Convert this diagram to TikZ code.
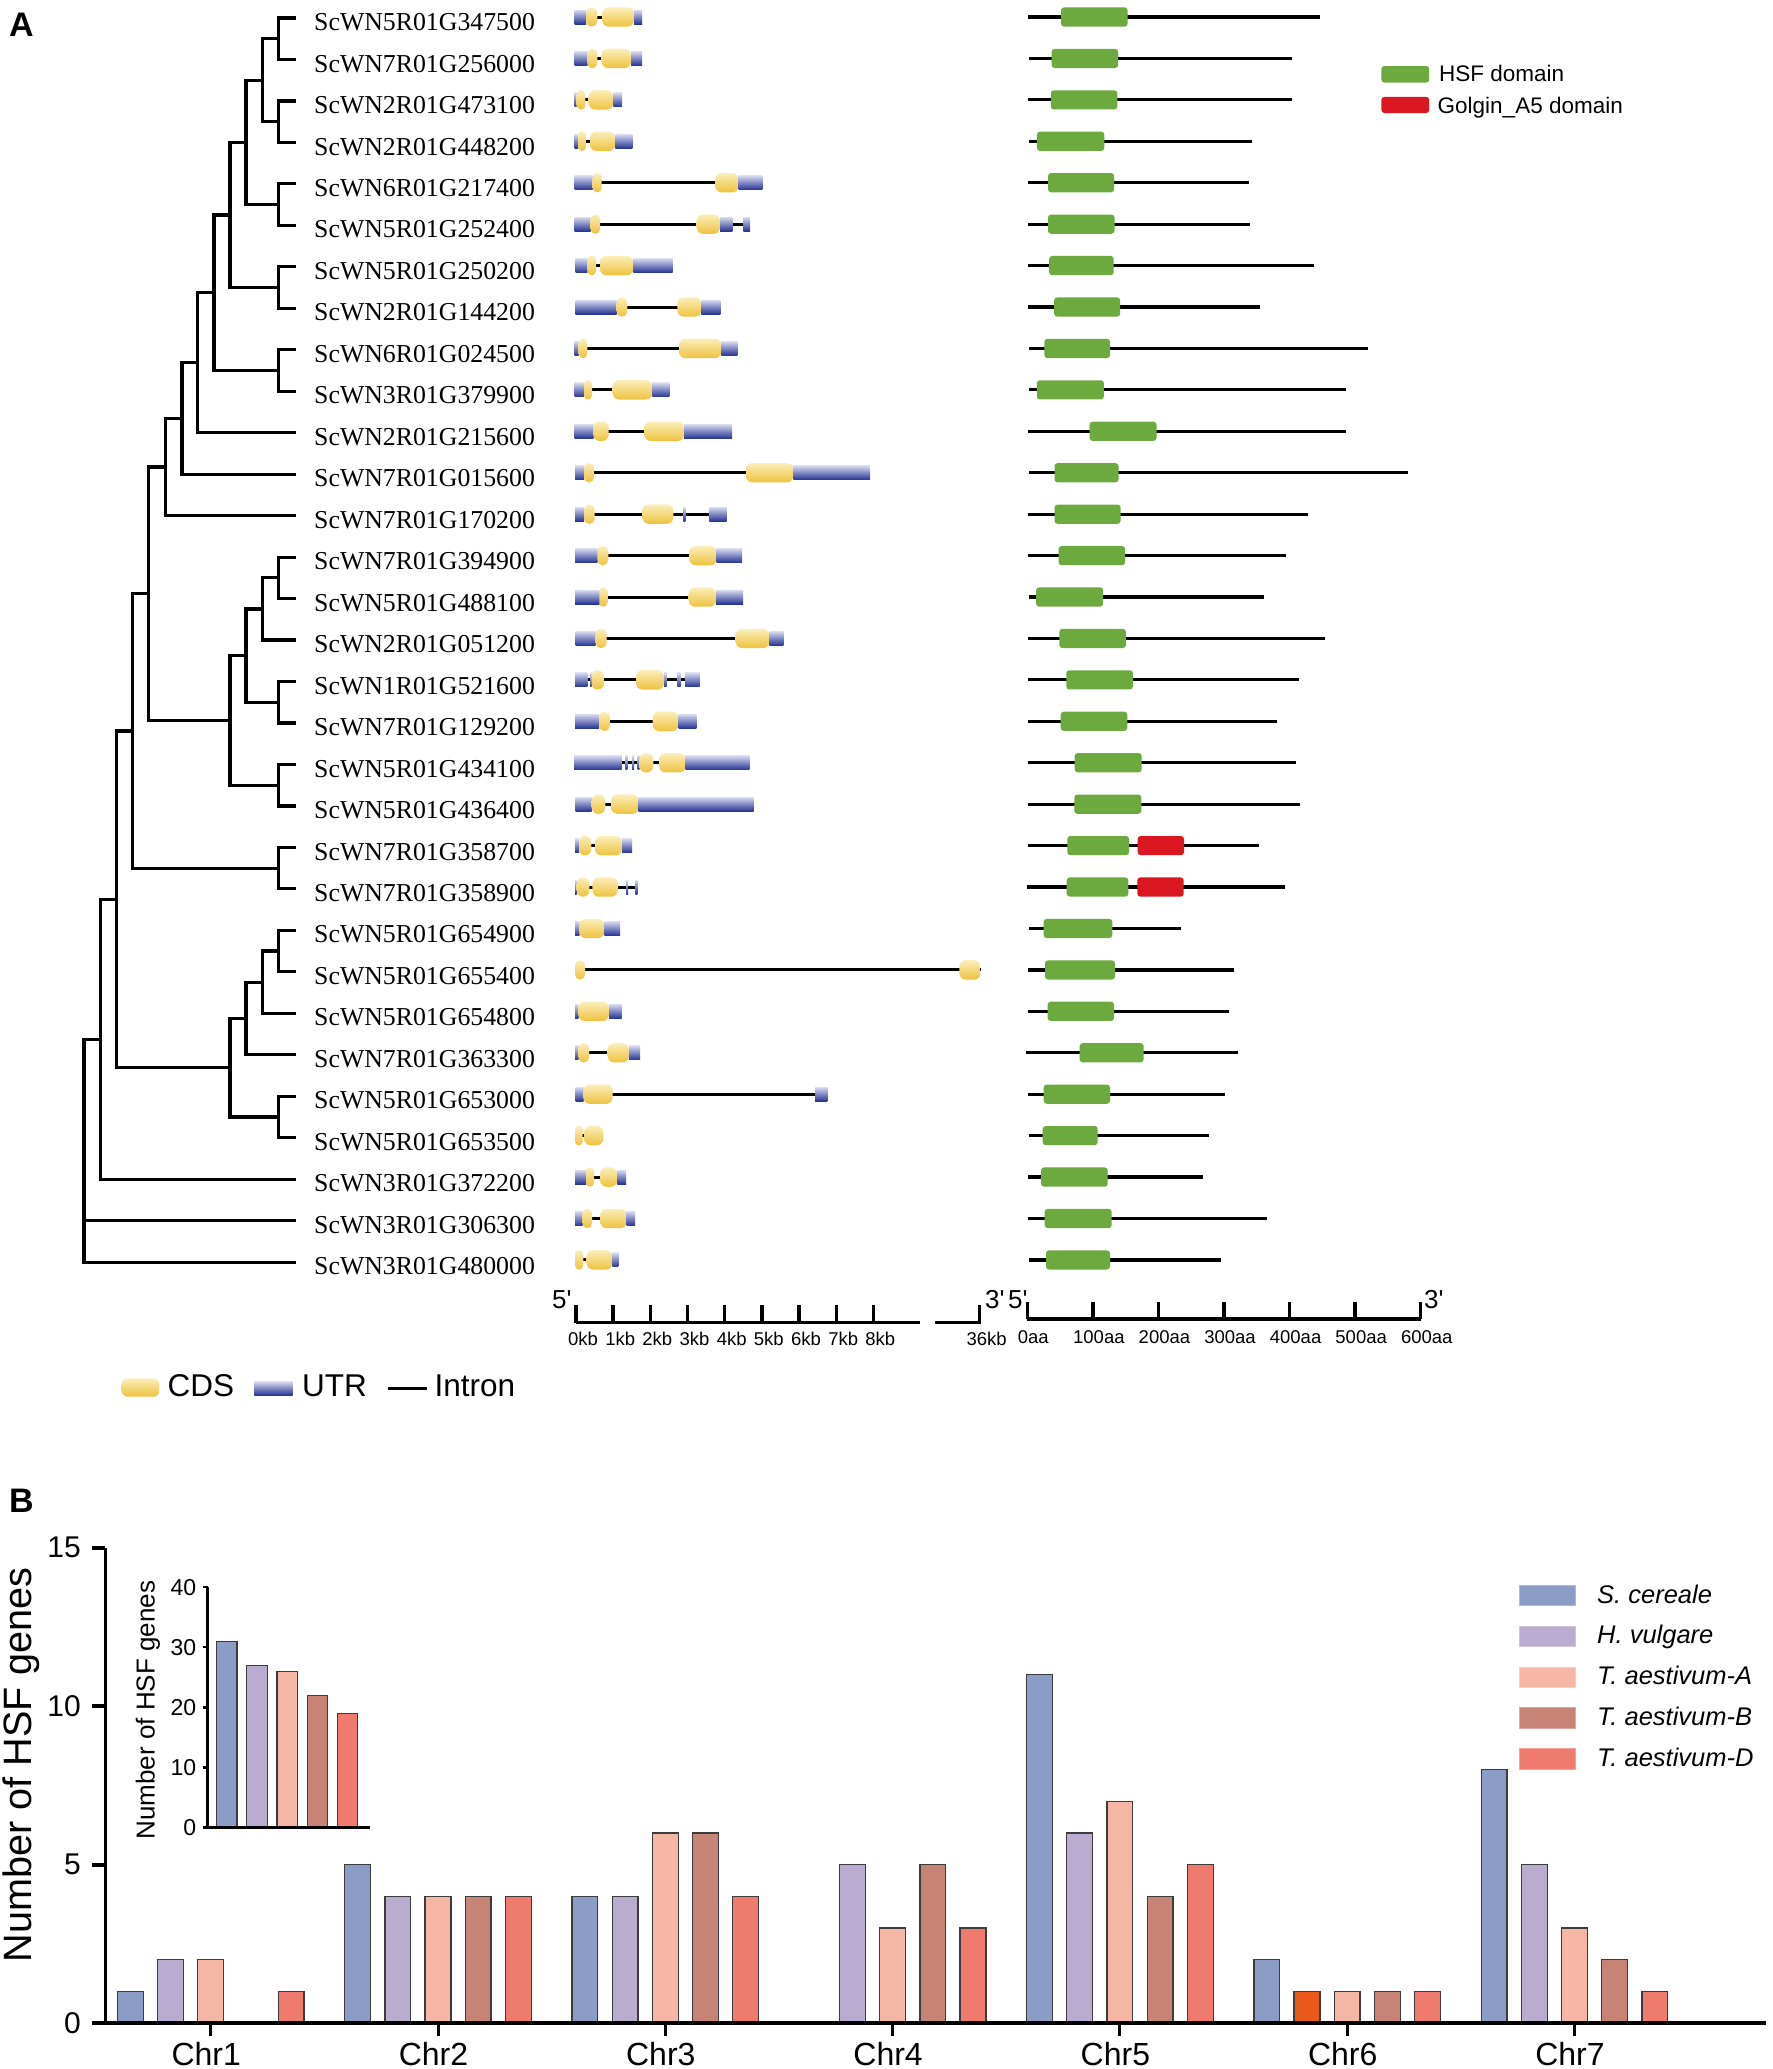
\documentclass[tikz,border=0pt]{standalone}
\usepackage{fontspec}
\setmainfont{Liberation Serif}
\setsansfont{Liberation Sans}
\newfontfamily\arialf{Liberation Sans}
\usetikzlibrary{calc}
\definecolor{utrdark}{RGB}{38,52,148}
\definecolor{utrmid}{RGB}{78,90,178}
\definecolor{utrlight}{RGB}{214,217,240}
\definecolor{cdstop}{RGB}{251,238,186}
\definecolor{cdsbot}{RGB}{238,194,62}
\definecolor{hsfgreen}{RGB}{108,170,63}
\definecolor{golgired}{RGB}{218,22,32}
\definecolor{cSc}{RGB}{139,157,198}
\definecolor{cHv}{RGB}{186,171,208}
\definecolor{cTa}{RGB}{246,182,166}
\definecolor{cTb}{RGB}{200,131,119}
\definecolor{cTd}{RGB}{239,123,111}
\definecolor{cOr}{RGB}{233,90,26}
\newcommand\fsz[1]{\fontsize{#1}{#1}\selectfont}
% tree node: name, x, child1, child2
\newcommand\tn[4]{%
  \coordinate (#1m) at ($(#3)!0.5!(#4)$);
  \coordinate (#1x) at (#2,0);
  \coordinate (#1) at (#1x |- #1m);
  \draw[treeline] (#3) -| (#1) |- (#4);}
\newcommand\utr[2]{\shade[utrsh] (#1,\yy-7) rectangle (#2,\yy+7);}
\newcommand\cds[2]{\pgfmathsetmacro\rr{min(6.5,(#2-#1)/2-0.05)}%
  \shade[cdssh, rounded corners=\rr pt] (#1,\yy-9.7) rectangle (#2,\yy+9.7);}
\newcommand\gene[4]{\pgfmathsetmacro\yy{17+41.43*(#1-1)}%
  \draw[intronline] (#2,\yy) -- (#3,\yy); #4}
\newcommand\chbar[4]{\pgfmathsetmacro\cx{210.7+227.3*(#1-1)+(#2-2)*40.2}%
  \pgfmathsetmacro\ty{2023.2-31.7*#3}%
  \filldraw[barst, fill=#4] (\cx-12.9,2023.2) rectangle (\cx+12.9,\ty);}
\begin{document}
\begin{tikzpicture}[x=1pt,y=-1pt,
  treeline/.style={line width=3.2pt, black},
  glabel/.style={anchor=base west, inner sep=0pt, font=\fsz{25.8}},
  utrsh/.style={top color=utrlight, middle color=utrmid, bottom color=utrdark},
  cdssh/.style={top color=cdstop, bottom color=cdsbot},
  intronline/.style={line width=3pt, black},
  pline/.style={line width=3.2pt, black},
  hsfst/.style={fill=hsfgreen, rounded corners=3pt},
  golst/.style={fill=golgired, rounded corners=3pt},
  scaleline/.style={line width=3.4pt, black},
  sclab/.style={anchor=base, inner sep=0pt, font=\arialf\fsz{18.5}},
  primelab/.style={anchor=base west, inner sep=0pt, font=\arialf\fsz{26}},
  barst/.style={draw={rgb,255:red,60;green,60;blue,60}, line width=1.3pt},
  axisline/.style={line width=3.6pt, black},
  txt/.style={inner sep=0pt, font=\arialf}]
\useasboundingbox (0,0) rectangle (1772,2069);
\fill[white] (0,0) rectangle (1772,2069);

% ---------- Panel labels
\node[txt, anchor=base west, font=\arialf\bfseries\fsz{34}] (labA) at (9,36) {A};
\node[txt, anchor=base west, font=\arialf\bfseries\fsz{34}] (labB) at (9,1512) {B};

% ---------- Tree leaves and labels
\foreach \i/\n in {1/ScWN5R01G347500,2/ScWN7R01G256000,3/ScWN2R01G473100,4/ScWN2R01G448200,
 5/ScWN6R01G217400,6/ScWN5R01G252400,7/ScWN5R01G250200,8/ScWN2R01G144200,9/ScWN6R01G024500,
 10/ScWN3R01G379900,11/ScWN2R01G215600,12/ScWN7R01G015600,13/ScWN7R01G170200,14/ScWN7R01G394900,
 15/ScWN5R01G488100,16/ScWN2R01G051200,17/ScWN1R01G521600,18/ScWN7R01G129200,19/ScWN5R01G434100,
 20/ScWN5R01G436400,21/ScWN7R01G358700,22/ScWN7R01G358900,23/ScWN5R01G654900,24/ScWN5R01G655400,
 25/ScWN5R01G654800,26/ScWN7R01G363300,27/ScWN5R01G653000,28/ScWN5R01G653500,29/ScWN3R01G372200,
 30/ScWN3R01G306300,31/ScWN3R01G480000}{
  \coordinate (l\i) at (296,{18+41.47*(\i-1)});
  \node[glabel] (g\i) at (314,{18+41.47*(\i-1)+12.6}) {\n};
}
\tn{a12}{278.3}{l1}{l2}
\tn{a34}{278.3}{l3}{l4}
\tn{a14}{262.3}{a12}{a34}
\tn{a56}{278.3}{l5}{l6}
\tn{a16}{246}{a14}{a56}
\tn{a78}{278.3}{l7}{l8}
\tn{a18}{230}{a16}{a78}
\tn{a910}{278.3}{l9}{l10}
\tn{a110}{214}{a18}{a910}
\tn{a111}{197.7}{a110}{l11}
\tn{a112}{182}{a111}{l12}
\tn{a113}{165.7}{a112}{l13}
\tn{b1415}{278.3}{l14}{l15}
\tn{b1416}{262.3}{b1415}{l16}
\tn{b1718}{278.3}{l17}{l18}
\tn{b1418}{246}{b1416}{b1718}
\tn{b1920}{278.3}{l19}{l20}
\tn{b1420}{230}{b1418}{b1920}
\tn{c120}{148.7}{a113}{b1420}
\tn{c2122}{278.3}{l21}{l22}
\tn{c122}{132.7}{c120}{c2122}
\tn{d2324}{278.3}{l23}{l24}
\tn{d2325}{262.3}{d2324}{l25}
\tn{d2326}{246}{d2325}{l26}
\tn{d2728}{278.3}{l27}{l28}
\tn{d2328}{230}{d2326}{d2728}
\tn{e128}{116.7}{c122}{d2328}
\tn{e129}{100.5}{e128}{l29}
\coordinate (rootx) at (84,0);
\coordinate (root) at (rootx |- l30);
\draw[treeline] (e129) -| (root) |- (l31);
\draw[treeline] (root) -- (l30);

% ---------- Gene structures
\gene{1}{574.7}{642}{\utr{574.7}{586}\cds{586}{597.3}\cds{602.3}{634}\utr{634}{642}}
\gene{2}{574.7}{642}{\utr{574.7}{587.3}\cds{587.3}{597.3}\cds{601.7}{631}\utr{631}{642}}
\gene{3}{574.7}{622}{\utr{574.7}{576.7}\cds{576.7}{585.3}\cds{588.7}{613.3}\utr{613.3}{622}}
\gene{4}{574.7}{632.3}{\utr{574.7}{578}\cds{578}{586}\cds{590}{615.3}\utr{615.3}{632.3}}
\gene{5}{574.7}{762.3}{\utr{574.7}{592.7}\cds{592.7}{601.7}\cds{715.3}{738.7}\utr{738.7}{762.3}}
\gene{6}{574.7}{750}{\utr{574.7}{590.7}\cds{590.7}{600}\cds{696.7}{720}\utr{720}{732.3}\utr{743.3}{750}}
\gene{7}{575.7}{672.7}{\utr{575.7}{587.3}\cds{587.3}{596}\cds{600}{633.3}\utr{633.3}{672.7}}
\gene{8}{575.7}{720.3}{\utr{575.7}{616.7}\cds{616.7}{627.3}\cds{677.3}{701.3}\utr{701.3}{720.3}}
\gene{9}{574.7}{737.3}{\utr{574.7}{578.7}\cds{578.7}{587.3}\cds{679}{721.3}\utr{721.3}{737.3}}
\gene{10}{574.7}{669.3}{\utr{574.7}{584}\cds{584}{592}\cds{612.7}{652.3}\utr{652.3}{669.3}}
\gene{11}{574.7}{732}{\utr{574.7}{593.3}\cds{593.3}{608.7}\cds{644.3}{684}\utr{684}{732}}
\gene{12}{575}{870}{\utr{575}{584}\cds{584}{594}\cds{746}{793.3}\utr{793.3}{870}}
\gene{13}{575}{726.7}{\utr{575}{584}\cds{584}{594.7}\cds{642.3}{673.3}\utr{683.3}{685.3}\utr{709.3}{726.7}}
\gene{14}{575}{742}{\utr{575}{597.3}\cds{597.3}{608.3}\cds{689.3}{716.7}\utr{716.7}{742}}
\gene{15}{575}{743}{\utr{575}{599.3}\cds{599.3}{607.3}\cds{688.7}{716}\utr{716}{743}}
\gene{16}{575.7}{783.3}{\utr{575.7}{595.7}\cds{595.7}{606.7}\cds{735.7}{769.3}\utr{769.3}{783.3}}
\gene{17}{575}{699.7}{\utr{575}{587.3}\utr{590.2}{591.7}\cds{591.7}{603.7}\cds{636}{664}\utr{664}{666.5}\utr{677.3}{680.7}\utr{685}{699.7}}
\gene{18}{575}{696.3}{\utr{575}{599}\cds{599}{610}\cds{652.7}{678.7}\utr{678.7}{696.3}}
\gene{19}{574}{749.3}{\utr{574}{621.7}\utr{625.3}{627.3}\utr{632}{634.2}\utr{637.5}{639.3}\cds{639.3}{653.3}\cds{659}{685.7}\utr{685.7}{749.3}}
\gene{20}{575.7}{753.7}{\utr{575.7}{591.7}\cds{591.7}{605.3}\cds{611}{638.7}\utr{638.7}{753.7}}
\gene{21}{575}{632}{\utr{575}{579}\cds{579}{591.3}\cds{595}{622}\utr{622}{632}}
\gene{22}{575}{637.3}{\utr{575}{576.7}\cds{576.7}{589.3}\cds{592.3}{617.7}\utr{626.3}{628}\utr{635.3}{637.3}}
\gene{23}{575}{620}{\utr{575}{579.3}\cds{579.3}{604.3}\utr{604.3}{620}}
\gene{24}{575}{980.7}{\cds{575}{585}\cds{959.3}{980.7}}
\gene{25}{575}{621.7}{\utr{575}{578.3}\cds{578.3}{609}\utr{609}{621.7}}
\gene{26}{575}{640}{\utr{575}{578.3}\cds{578.3}{589}\cds{607.7}{629}\utr{629}{640}}
\gene{27}{575.7}{827.3}{\utr{575.7}{583.3}\cds{583.3}{612.7}\utr{815}{827.3}}
\gene{28}{575}{603.3}{\cds{575}{582.7}\cds{584.3}{603.3}}
\gene{29}{575}{626}{\utr{575}{586}\cds{586}{594}\cds{600}{617.3}\utr{617.3}{626}}
\gene{30}{575}{635}{\utr{575}{582.7}\cds{582.7}{592}\cds{600.3}{626.7}\utr{626.7}{635}}
\gene{31}{575}{618.3}{\cds{575}{583.3}\cds{586.7}{612.3}\utr{612.3}{618.3}}

% ---------- Protein domains
\foreach \i/\a/\b/\c/\d in {1/1028.4/1320.2/1061/1127.6, 2/1029.2/1291.6/1051.6/1118.2,
 3/1028.4/1291.6/1050.8/1117.3, 4/1029.2/1252.4/1036.9/1104.3, 5/1028.4/1249.2/1048/1114.1,
 6/1028.4/1249.6/1048/1114.5, 7/1028.4/1313.7/1049.2/1113.7, 8/1028.4/1260.2/1054.1/1120.2,
 9/1029.2/1368.4/1044.3/1110, 10/1029.2/1345.5/1036.9/1103.9, 11/1028.4/1345.9/1089.6/1156.5,
 12/1029.2/1408/1054.5/1118.6, 13/1028.4/1307.6/1054.5/1120.6, 14/1028.4/1285.9/1058.6/1125.1,
 15/1029.2/1263.5/1036.1/1103.1, 16/1028/1324.7/1059.4/1125.9, 17/1028.4/1299/1066.3/1132.9,
 18/1028.3/1276.7/1060.7/1127.3, 19/1027.7/1296/1074.7/1141.7, 20/1027.7/1300.3/1074.3/1141.3,
 21/1027.7/1259.3/1067.3/1129, 22/1027.3/1284.7/1066.7/1128.3, 23/1029/1181.3/1043.7/1112.3,
 24/1028.3/1234/1045/1115, 25/1028.3/1229.3/1047.7/1114, 26/1025.7/1238.3/1079.7/1143.7,
 27/1028.3/1224.7/1043.7/1110, 28/1029/1209/1042.7/1097.7, 29/1028.3/1203.3/1041/1107.7,
 30/1027.7/1266.7/1044.7/1111.7, 31/1029/1220.7/1046/1110}{
  \pgfmathsetmacro\yy{17+41.43*(\i-1)}
  \draw[pline] (\a,\yy) -- (\b,\yy);
  \fill[hsfst] (\c,\yy-9.6) rectangle (\d,\yy+9.6);
}
\pgfmathsetmacro\yy{17+41.43*20}
\fill[golst] (1137.7,\yy-9.6) rectangle (1184,\yy+9.6);
\pgfmathsetmacro\yy{17+41.43*21}
\fill[golst] (1137.3,\yy-9.6) rectangle (1183.7,\yy+9.6);

% domain legend
\fill[hsfst] (1381.4,66) rectangle (1429.2,82.6);
\node[txt, anchor=base west, font=\arialf\fsz{22.5}] (lhsf) at (1439,81.8) {HSF domain};
\fill[golst] (1381.4,96.9) rectangle (1429.2,113);
\node[txt, anchor=base west, font=\arialf\fsz{22.5}] (lgol) at (1437.5,113.8) {Golgin\_A5 domain};

% ---------- kb scale bar
\draw[scaleline] (576,1322.7) -- (920,1322.7);
\draw[scaleline] (935,1322.7) -- (979.3,1322.7) -- (979.3,1305);
\foreach \k in {0,...,8}{
  \draw[scaleline] ({576+37.17*\k},1322.7) -- ++(0,-17.7);
  \node[sclab] (kb\k) at ({583+37.17*\k},1345.5) {\k kb};
}
\node[sclab] (kb36) at (986.7,1345.5) {36kb};
\node[primelab] (p5a) at (552,1308) {5\textquotesingle};
\node[primelab] (p3a) at (985,1308) {3\textquotesingle};

% ---------- aa scale bar
\draw[scaleline] (1027.3,1319) -- (1420.7,1319);
\foreach \k/\t in {0/0,1/100,2/200,3/300,4/400,5/500,6/600}{
  \draw[scaleline] ({1027.3+65.57*\k},1319) -- ++(0,-17);
  \node[sclab] (aa\k) at ({1033.3+65.57*\k},1343.5) {\t aa};
}
\node[primelab] (p5b) at (1008,1308) {5\textquotesingle};
\node[primelab] (p3b) at (1424,1308) {3\textquotesingle};

% ---------- CDS/UTR/Intron legend
\shade[cdssh, rounded corners=6pt] (121.7,1378.3) rectangle (159.3,1396.7);
\node[txt, anchor=base west, font=\arialf\fsz{31.5}] (lcds) at (167.5,1396.7) {CDS};
\shade[utrsh] (254.3,1381.7) rectangle (292.7,1395);
\node[txt, anchor=base west, font=\arialf\fsz{31.5}] (lutr) at (302,1396.7) {UTR};
\draw[intronline] (388.3,1388.3) -- (426.7,1388.3);
\node[txt, anchor=base west, font=\arialf\fsz{31.5}] (lint) at (434.5,1396.7) {Intron};

% ---------- Panel B main bars
\chbar{1}{0}{1}{cSc}\chbar{1}{1}{2}{cHv}\chbar{1}{2}{2}{cTa}\chbar{1}{4}{1}{cTd}
\chbar{2}{0}{5}{cSc}\chbar{2}{1}{4}{cHv}\chbar{2}{2}{4}{cTa}\chbar{2}{3}{4}{cTb}\chbar{2}{4}{4}{cTd}
\chbar{3}{0}{4}{cSc}\chbar{3}{1}{4}{cHv}\chbar{3}{2}{6}{cTa}\chbar{3}{3}{6}{cTb}\chbar{3}{4}{4}{cTd}
\chbar{4}{1}{5}{cHv}\chbar{4}{2}{3}{cTa}\chbar{4}{3}{5}{cTb}\chbar{4}{4}{3}{cTd}
\chbar{5}{0}{11}{cSc}\chbar{5}{1}{6}{cHv}\chbar{5}{2}{7}{cTa}\chbar{5}{3}{4}{cTb}\chbar{5}{4}{5}{cTd}
\chbar{6}{0}{2}{cSc}\chbar{6}{1}{1}{cOr}\chbar{6}{2}{1}{cTa}\chbar{6}{3}{1}{cTb}\chbar{6}{4}{1}{cTd}
\chbar{7}{0}{8}{cSc}\chbar{7}{1}{5}{cHv}\chbar{7}{2}{3}{cTa}\chbar{7}{3}{2}{cTb}\chbar{7}{4}{1}{cTd}

% main axes
\draw[axisline] (105.4,1547.7) -- (105.4,2023.2);
\draw[line width=3.8pt] (91.5,2023.2) -- (1766,2023.2);
\foreach \v in {0,5,10,15}{
  \draw[axisline] (91.5,{2023.2-31.7*\v}) -- (105.4,{2023.2-31.7*\v});
  \node[txt, anchor=east, font=\arialf\fsz{30}] (yt\v) at (81,{2023.2-31.7*\v}) {\v};
}
\foreach \k in {1,...,7}{
  \draw[line width=3pt] ({210.7+227.3*(\k-1)},2023.2) -- ({210.7+227.3*(\k-1)},2035.6);
  \node[txt, anchor=base, font=\arialf\fsz{32}] (chr\k) at ({206.2+227.3*(\k-1)},2065) {Chr\k};
}
\node[txt, rotate=90, font=\arialf\fsz{39.6}] (ytitle) at (21,1765) {Number of HSF genes};

% inset
\foreach \j/\v/\c in {0/31/cSc,1/27/cHv,2/26/cTa,3/22/cTb,4/19/cTd}{
  \filldraw[barst, fill=\c] ({226.8+30.2*\j-10.2},1827.7) rectangle ({226.8+30.2*\j+10.2},{1827.7-6.015*\v});
}
\draw[line width=2.8pt] (207.6,1587.1) -- (207.6,1827.7);
\draw[line width=2.8pt] (203,1827.7) -- (369.6,1827.7);
\foreach \v in {0,10,20,30,40}{
  \draw[line width=2.4pt] (202.5,{1827.7-6.015*\v}) -- (207.6,{1827.7-6.015*\v});
  \node[txt, anchor=east, font=\arialf\fsz{23}] (it\v) at (196.4,{1827.7-6.015*\v}) {\v};
}
\node[txt, rotate=90, font=\arialf\fsz{26}] (ititle) at (148,1710) {Number of HSF genes};

% legend B
\foreach \i/\c/\t in {0/cSc/S. cereale,1/cHv/H. vulgare,2/cTa/T. aestivum-A,3/cTb/T. aestivum-B,4/cTd/T. aestivum-D}{
  \filldraw[fill=\c, draw=\c!70!white, line width=1pt] (1519,{1585.2+40.9*\i}) rectangle (1575,{1605.8+40.9*\i});
  \node[txt, anchor=base west, font=\arialf\itshape\fsz{25.5}] (leg\i) at (1597,{1603+40.9*\i}) {\t};
}
\end{tikzpicture}
\end{document}
